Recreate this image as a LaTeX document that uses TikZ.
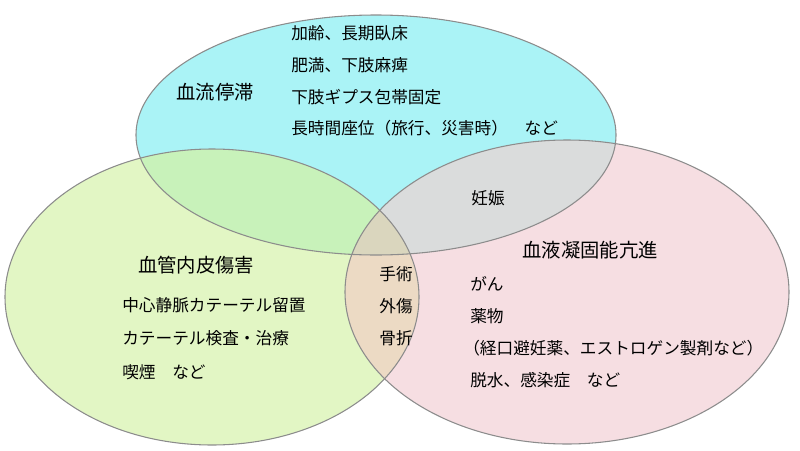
\documentclass[tikz,border=0pt]{standalone}
\usepackage{fontspec}
\newfontfamily\jp{Noto Sans CJK JP}
\begin{document}
\begin{tikzpicture}[x=0.75pt,y=-0.75pt,
  ell/.style={draw=black!45,line width=0.8pt},
  ttl/.style={font=\jp\fontsize{14.5pt}{16pt}\selectfont},
  itm/.style={font=\jp\fontsize{12.5pt}{14pt}\selectfont,anchor=west,inner sep=0pt}]
\useasboundingbox (0,0) rectangle (800,450);
\def\EA{(376,135) ellipse [x radius=240,y radius=120]}
\def\EB{(212,297) ellipse [x radius=207,y radius=148]}
\def\EC{(567,292) ellipse [x radius=222,y radius=152]}
\fill[color={rgb,255:red,170;green,243;blue,246}] \EA;
\fill[color={rgb,255:red,226;green,246;blue,196}] \EB;
\fill[color={rgb,255:red,246;green,222;blue,226}] \EC;
\begin{scope}\clip \EA; \fill[color={rgb,255:red,200;green,242;blue,186}] \EB; \fill[color={rgb,255:red,218;green,220;blue,220}] \EC; \end{scope}
\begin{scope}\clip \EB; \fill[color={rgb,255:red,236;green,218;blue,196}] \EC;
  \clip \EA; \fill[color={rgb,255:red,218;green,214;blue,190}] \EC; \end{scope}
\draw[ell] \EA; \draw[ell] \EB; \draw[ell] \EC;
\node[ttl] (t1) at (215,92) {血流停滞};
\node[itm] (a1) at (291,33) {加齢、長期臥床};
\node[itm] (a2) at (291,65) {肥満、下肢麻痺};
\node[itm] (a3) at (291,97) {下肢ギプス包帯固定};
\node[itm] (a4) at (291,128) {長時間座位（旅行、災害時）　など};
\node[itm,anchor=center] (p) at (488,198) {妊娠};
\node[ttl] (t2) at (590,250) {血液凝固能亢進};
\node[itm] (b1) at (470,284) {がん};
\node[itm] (b2) at (470,316) {薬物};
\node[itm] (b3) at (463,348) {（経口避妊薬、エストロゲン製剤など）};
\node[itm] (b4) at (470,380) {脱水、感染症　など};
\node[ttl] (t3) at (196,265) {血管内皮傷害};
\node[itm] (c1) at (122,305) {中心静脈カテーテル留置};
\node[itm] (c2) at (122,338) {カテーテル検査・治療};
\node[itm] (c3) at (122,372) {喫煙　など};
\node[itm,anchor=center] (d1) at (396,274) {手術};
\node[itm,anchor=center] (d2) at (396,306) {外傷};
\node[itm,anchor=center] (d3) at (396,338) {骨折};
\end{tikzpicture}
\end{document}
